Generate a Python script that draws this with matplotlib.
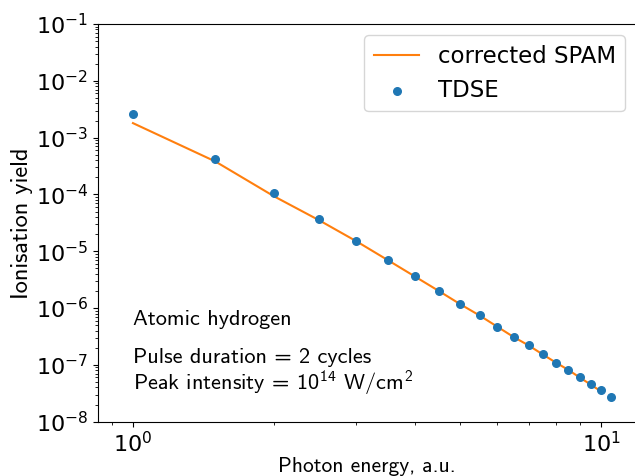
import matplotlib
matplotlib.use("Agg")
import matplotlib.pyplot as plt
import numpy as np

# photon energies (a.u.)
energy = [1.0, 1.5, 2.0, 2.5, 3.0, 3.5, 4.0, 4.5, 5.0, 5.5,
          6.0, 6.5, 7.0, 7.5, 8.0, 8.5, 9.0, 9.5, 10.0, 10.5]
# TDSE ionisation yield
tdse = [2.6e-3, 4.2e-4, 1.07e-4, 3.7e-5, 1.5e-5, 7.0e-6, 3.6e-6, 2.0e-6,
        1.17e-6, 7.4e-7, 4.7e-7, 3.1e-7, 2.2e-7, 1.53e-7, 1.1e-7, 8.2e-8,
        6.1e-8, 4.6e-8, 3.55e-8, 2.75e-8]

# corrected SPAM curve
spam_energy = [1.0, 1.5, 2.0, 2.5, 3.0, 3.5, 4.0, 4.5, 5.0, 5.5,
               6.0, 6.5, 7.0, 7.5, 8.0, 8.5, 9.0, 9.5, 10.0]
spam = [1.8e-3, 3.8e-4, 9.3e-5, 3.5e-5, 1.5e-5, 7.0e-6, 3.6e-6, 2.0e-6,
        1.17e-6, 7.4e-7, 4.7e-7, 3.1e-7, 2.2e-7, 1.53e-7, 1.1e-7, 8.2e-8,
        6.0e-8, 4.5e-8, 3.4e-8]

# latex-like sans font for labels and notes
plt.rcParams["mathtext.rm"] = "cmss10"
plt.rcParams["mathtext.it"] = "cmss10"
plt.rcParams["mathtext.bf"] = "cmss10"
sans = dict(family="cmss10", math_fontfamily="custom")

fig = plt.figure(figsize=(6.35, 4.76), dpi=100)
ax = fig.add_axes([0.1543, 0.1141, 0.8481, 0.8355])

ax.plot(spam_energy, spam, color="C1", lw=1.5, label="corrected SPAM")
ax.scatter(energy, tdse, s=30, color="C0", label="TDSE", zorder=3)

ax.set_xscale("log")
ax.set_yscale("log")
ax.set_xlim(0.842, 11.9)
ax.set_ylim(1e-8, 1e-1)
ax.tick_params(labelsize=16)

ax.set_xlabel("Photon energy, a.u.", fontsize=15.5, labelpad=0, **sans)
ax.set_ylabel("Ionisation yield", fontsize=17.5, labelpad=2, **sans)

ax.text(1.0, 5.0e-7, "Atomic hydrogen", fontsize=16, va="baseline", **sans)
ax.text(1.0, 1.1e-7, "Pulse duration = 2 cycles", fontsize=16, va="baseline", **sans)
ax.text(1.0, 3.5e-8, "Peak intensity = 10$^{14}$ W/cm$^2$", fontsize=16,
        va="baseline", **sans)

ax.legend(loc="upper right", fontsize=16.5)

fig.savefig("out.png", dpi=100)
